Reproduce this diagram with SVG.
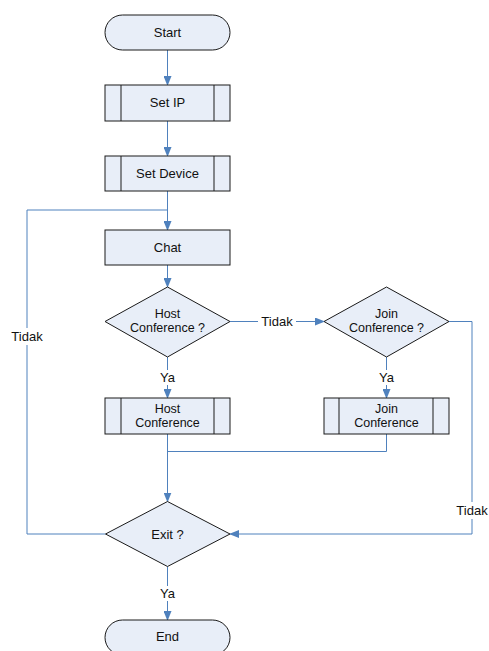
<svg xmlns="http://www.w3.org/2000/svg" width="489" height="651" viewBox="0 0 489 651">
<style>
.n{fill:#e8eef8;stroke:#1a1a1a;stroke-width:1}
.t{font-family:"Liberation Sans",Arial,sans-serif;font-size:13px;fill:#111;text-anchor:middle}
.s{font-size:12.5px}
.c{fill:none;stroke:#4f81bd;stroke-width:1}
.lb{fill:#fff}
</style>
<defs>
<marker id="a" markerWidth="10" markerHeight="8" refX="9" refY="4" orient="auto" markerUnits="userSpaceOnUse">
<path d="M0,0 L10,4 L0,8 Z" fill="#4f81bd"/>
</marker>
</defs>
<rect width="489" height="651" fill="#fff"/>
<g id="connectors">
<path class="c" d="M167.5,50 V85" marker-end="url(#a)"/>
<path class="c" d="M167.5,121 V156" marker-end="url(#a)"/>
<path class="c" d="M167.5,191 V230" marker-end="url(#a)"/>
<path class="c" d="M167.5,265 V287" marker-end="url(#a)"/>
<path class="c" d="M230,321.5 H324" marker-end="url(#a)"/>
<path class="c" d="M167.5,357 V398" marker-end="url(#a)"/>
<path class="c" d="M386.5,357 V398" marker-end="url(#a)"/>
<path class="c" d="M167.5,434 V501.5" stroke-width="1.6" marker-end="url(#a)"/>
<path class="c" d="M386.5,434 V451.5 H167.5"/>
<path class="c" d="M449,321.5 H472 V534 H230" marker-end="url(#a)"/>
<path class="c" d="M105.5,534 H27 V210 H167.5"/>
<path class="c" d="M167.5,566.5 V620" marker-end="url(#a)"/>
<rect class="lb" x="258" y="313" width="38" height="16"/>
<text class="t" x="277" y="325.5">Tidak</text>
<rect class="lb" x="9" y="328" width="36" height="17"/>
<text class="t" x="27" y="341">Tidak</text>
<rect class="lb" x="454" y="502" width="35" height="17"/>
<text class="t" x="472" y="515">Tidak</text>
<rect class="lb" x="157" y="370" width="21" height="15"/>
<text class="t" x="167.5" y="382">Ya</text>
<rect class="lb" x="376" y="370" width="21" height="15"/>
<text class="t" x="386.5" y="382">Ya</text>
<rect class="lb" x="157" y="586" width="21" height="15"/>
<text class="t" x="167.5" y="598">Ya</text>
</g>
<g id="start">
<rect class="n" x="105" y="15" width="125" height="35" rx="17.5"/>
<text class="t" x="167.5" y="37">Start</text>
</g>
<g id="setip">
<rect class="n" x="105" y="85" width="125" height="36"/>
<path class="n" d="M121,85 V121 M214,85 V121"/>
<text class="t" x="167.5" y="107">Set IP</text>
</g>
<g id="setdevice">
<rect class="n" x="105" y="156" width="125" height="35"/>
<path class="n" d="M121,156 V191 M214,156 V191"/>
<text class="t" x="167.5" y="178">Set Device</text>
</g>
<g id="chat">
<rect class="n" x="105" y="230" width="125" height="35"/>
<text class="t" x="167.5" y="252">Chat</text>
</g>
<g id="hostq">
<polygon class="n" points="167.5,287 230,321.5 167.5,357 105,321.5"/>
<text class="t s" x="167.5" y="318">Host</text>
<text class="t s" x="167.5" y="332">Conference ?</text>
</g>
<g id="joinq">
<polygon class="n" points="386.5,287 449,321.5 386.5,357 324,321.5"/>
<text class="t s" x="386.5" y="318">Join</text>
<text class="t s" x="386.5" y="332">Conference ?</text>
</g>
<g id="host">
<rect class="n" x="105" y="398" width="125" height="36"/>
<path class="n" d="M121,398 V434 M214,398 V434"/>
<text class="t s" x="167.5" y="412.5">Host</text>
<text class="t s" x="167.5" y="426.5">Conference</text>
</g>
<g id="join">
<rect class="n" x="324" y="398" width="125" height="36"/>
<path class="n" d="M339,398 V434 M433,398 V434"/>
<text class="t s" x="386.5" y="412.5">Join</text>
<text class="t s" x="386.5" y="426.5">Conference</text>
</g>
<g id="exit">
<polygon class="n" points="167.5,501.5 230,534 167.5,566.5 105.5,534"/>
<text class="t" x="167.5" y="538.5">Exit ?</text>
</g>
<g id="end">
<rect class="n" x="105" y="620" width="125" height="35" rx="17.5"/>
<text class="t" x="167.5" y="641">End</text>
</g>
</svg>
